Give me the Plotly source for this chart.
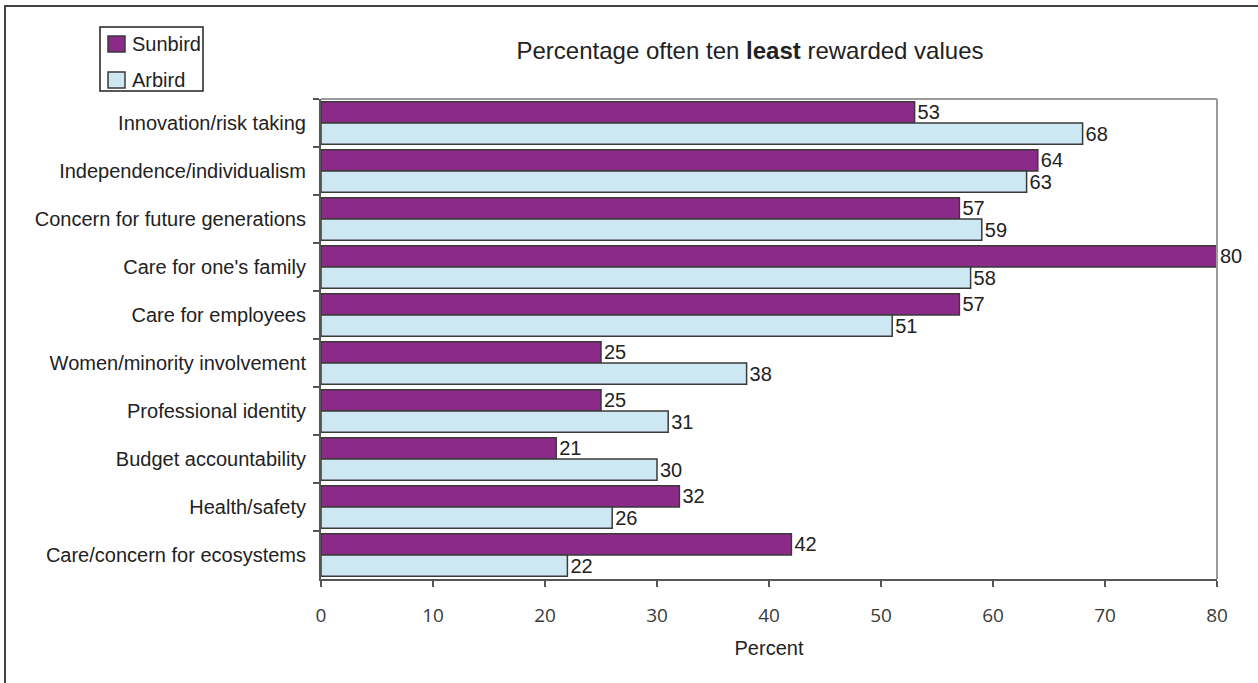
import plotly.graph_objects as go

categories = [
    "Innovation/risk taking",
    "Independence/individualism",
    "Concern for future generations",
    "Care for one's family",
    "Care for employees",
    "Women/minority involvement",
    "Professional identity",
    "Budget accountability",
    "Health/safety",
    "Care/concern for ecosystems",
]
sunbird = [53, 64, 57, 80, 57, 25, 25, 21, 32, 42]
arbird = [68, 63, 59, 58, 51, 38, 31, 30, 26, 22]
x_ticks = [0, 10, 20, 30, 40, 50, 60, 70, 80]
series_names = ["Sunbird", "Arbird"]
series_colors = ["#8c2a8a", "#cde8f2"]

W, H = 1258, 683
L, R, T, B = 321, 41, 99, 104
PW, PH = W - L - R, H - T - B

LABEL_FONT = dict(family="Liberation Sans, Arial, sans-serif", size=20, color="#222222")
OUTLINE = dict(color="#3a3a3a", width=1.5)


def px_to_paper(px, py):
    return (px - L) / PW, (H - B - py) / PH


fig = go.Figure()
for name, vals, col in zip(series_names, [sunbird, arbird], series_colors):
    fig.add_trace(go.Bar(
        name=name, y=categories, x=vals, orientation="h",
        marker=dict(color=col, line=OUTLINE),
        text=[str(v) for v in vals], textposition="outside",
        textfont=LABEL_FONT, cliponaxis=False, constraintext="none",
        showlegend=False,
    ))

# outer frame (left and top edges visible, the rest runs off the page)
bx0, by0 = px_to_paper(5, 6)
bx1, by1 = px_to_paper(W + 10, H + 10)
fig.add_shape(type="rect", xref="paper", yref="paper",
              x0=bx0, y0=by1, x1=bx1, y1=by0,
              line=dict(color="#444444", width=2), layer="below")
# light top and right edges of the plot area
fig.add_shape(type="line", xref="paper", yref="paper", x0=0, y0=1, x1=1, y1=1,
              line=dict(color="#9a9a9a", width=2))
fig.add_shape(type="line", xref="paper", yref="paper", x0=1, y0=0, x1=1, y1=1,
              line=dict(color="#9a9a9a", width=2))

# legend box with swatches and labels
lx0, ly0 = px_to_paper(100, 27)
lx1, ly1 = px_to_paper(203, 91)
fig.add_shape(type="rect", xref="paper", yref="paper",
              x0=lx0, y0=ly1, x1=lx1, y1=ly0,
              line=dict(color="#222222", width=1.5), fillcolor="white")
for i, (name, col) in enumerate(zip(series_names, series_colors)):
    cy = 44 + 36 * i
    sx0, sy0 = px_to_paper(108, cy - 8)
    sx1, sy1 = px_to_paper(125, cy + 8)
    fig.add_shape(type="rect", xref="paper", yref="paper",
                  x0=sx0, y0=sy1, x1=sx1, y1=sy0,
                  line=dict(color="#3a3a3a", width=1.5), fillcolor=col)
    tx, ty = px_to_paper(130, cy)
    fig.add_annotation(xref="paper", yref="paper", x=tx, y=ty,
                       text=name, showarrow=False, xanchor="left", yanchor="middle",
                       font=LABEL_FONT)

fig.update_layout(
    width=W, height=H,
    margin=dict(l=L, r=R, t=T, b=B),
    paper_bgcolor="white", plot_bgcolor="white",
    barmode="group", bargap=0.11, bargroupgap=0,
    font=dict(family="Liberation Sans, Arial, sans-serif", size=20, color="#222222"),
    title=dict(
        text="Percentage often ten <b>least</b> rewarded values",
        font=dict(size=24, color="#222222"),
        xref="container", yref="container",
        x=750 / W, y=1 - 51 / H, xanchor="center", yanchor="middle",
    ),
    showlegend=False,
)

fig.update_xaxes(
    range=[0, 80], tickvals=x_ticks, ticktext=[str(v) for v in x_ticks],
    showgrid=False, zeroline=False,
    showline=True, linecolor="#555555", linewidth=2,
    ticks="outside", ticklen=6, tickwidth=2, tickcolor="#555555",
    tickfont=dict(family="Open Sans, sans-serif", size=19, color="#3a3a3a"),
    ticklabelstandoff=12,
    title=dict(text="Percent", font=dict(size=20, color="#222222"), standoff=14),
)
fig.update_yaxes(
    autorange="reversed", showgrid=False, zeroline=False,
    showline=True, linecolor="#555555", linewidth=2,
    ticks="outside", tickson="boundaries", ticklen=6, tickwidth=2, tickcolor="#555555",
    tickfont=LABEL_FONT, ticklabelstandoff=9,
)

fig.write_html("out.html")
